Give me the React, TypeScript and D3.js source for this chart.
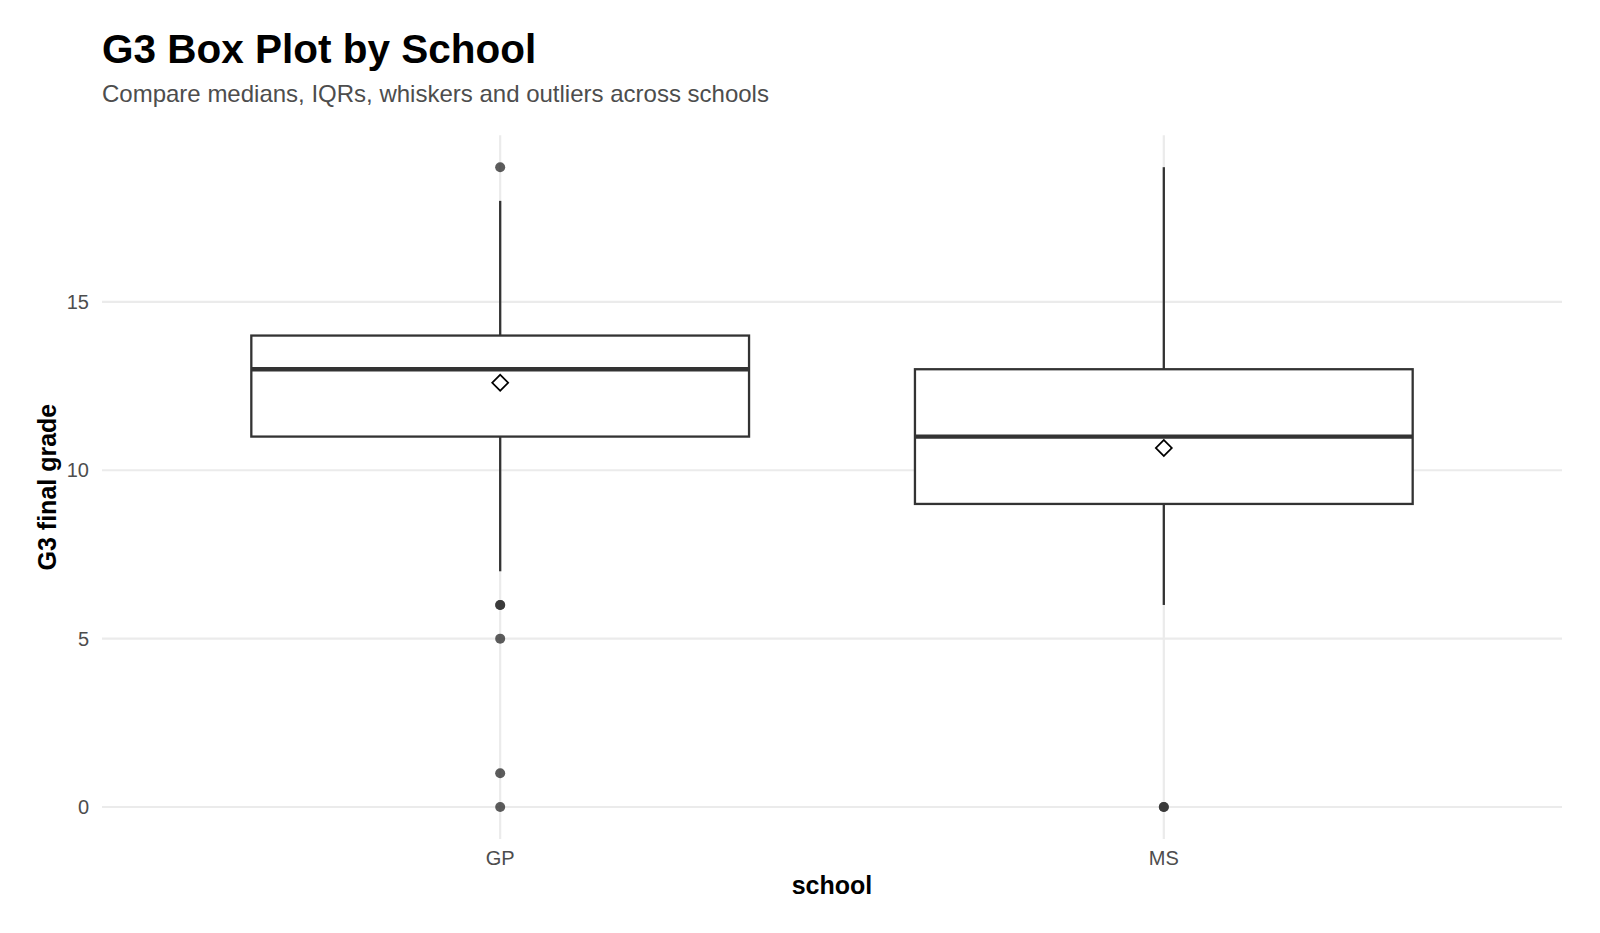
import React from "react";
import * as d3 from "d3";

// Resumen por escuela (G3)
const schools = ["GP", "MS"];
const lowerWhisker = [7, 6];
const q1 = [11, 9];
const medians = [13, 11];
const q3 = [14, 13];
const upperWhisker = [18, 19];
const means = [12.6, 10.66];
// outliers, repeated values overplot and look darker
const outliersGP = [19, 6, 6, 5, 1, 0];
const outliersMS = [0, 0];
const outliers = [outliersGP, outliersMS];
const yTicks = [0, 5, 10, 15];

const W = 1600;
const H = 933;
const margin = { top: 135.2, right: 38, bottom: 94, left: 102 };
const font = "'Liberation Sans', Arial, sans-serif";

export default function App() {
  const x = d3
    .scalePoint<string>()
    .domain(schools)
    .range([margin.left, W - margin.right])
    .padding(0.6);
  const y = d3
    .scaleLinear()
    .domain([-0.95, 19.95])
    .range([H - margin.bottom, margin.top]);

  const boxHalf = x.step() * 0.375;
  const diamond = d3.symbol(d3.symbolSquare, 128)() as string;
  const gridColor = "#ebebeb";
  const ink = "#333333";

  return (
    <svg
      width={W}
      height={H}
      style={{ position: "absolute", left: 0, top: 0, background: "#fff" }}
      fontFamily={font}
    >
      {/* Título y subtítulo */}
      <text x={102} y={63} fontSize={40.5} fontWeight="bold" fill="#000">
        G3 Box Plot by School
      </text>
      <text x={102} y={102} fontSize={24} fill="#4d4d4d">
        Compare medians, IQRs, whiskers and outliers across schools
      </text>

      {/* Rejilla */}
      {yTicks.map((t) => (
        <line
          key={"gy" + t}
          x1={margin.left}
          x2={W - margin.right}
          y1={y(t)}
          y2={y(t)}
          stroke={gridColor}
          strokeWidth={2.2}
        />
      ))}
      {schools.map((s) => (
        <line
          key={"gx" + s}
          x1={x(s)}
          x2={x(s)}
          y1={margin.top}
          y2={H - margin.bottom}
          stroke={gridColor}
          strokeWidth={2.2}
        />
      ))}

      {/* Ejes */}
      {yTicks.map((t) => (
        <text
          key={"ty" + t}
          x={89}
          y={y(t)}
          dy="0.36em"
          textAnchor="end"
          fontSize={20}
          fill="#4d4d4d"
        >
          {t}
        </text>
      ))}
      {schools.map((s) => (
        <text
          key={"tx" + s}
          x={x(s)}
          y={865}
          textAnchor="middle"
          fontSize={20}
          fill="#4d4d4d"
        >
          {s}
        </text>
      ))}
      <text
        x={(margin.left + W - margin.right) / 2}
        y={894}
        textAnchor="middle"
        fontSize={25}
        fontWeight="bold"
        fill="#000"
      >
        school
      </text>
      <text
        transform={`translate(56, ${(margin.top + H - margin.bottom) / 2}) rotate(-90)`}
        textAnchor="middle"
        fontSize={25}
        fontWeight="bold"
        fill="#000"
      >
        G3 final grade
      </text>

      {/* Cajas */}
      {schools.map((s, i) => {
        const cx = x(s) as number;
        return (
          <g key={"box" + s}>
            <line x1={cx} x2={cx} y1={y(upperWhisker[i])} y2={y(q3[i])} stroke={ink} strokeWidth={2.3} />
            <line x1={cx} x2={cx} y1={y(q1[i])} y2={y(lowerWhisker[i])} stroke={ink} strokeWidth={2.3} />
            <rect
              x={cx - boxHalf}
              y={y(q3[i])}
              width={boxHalf * 2}
              height={y(q1[i]) - y(q3[i])}
              fill="#fff"
              stroke={ink}
              strokeWidth={2.3}
            />
            <line
              x1={cx - boxHalf}
              x2={cx + boxHalf}
              y1={y(medians[i])}
              y2={y(medians[i])}
              stroke={ink}
              strokeWidth={4.4}
            />
            {outliers[i].map((v, j) => (
              <circle key={j} cx={cx} cy={y(v)} r={5} fill={ink} fillOpacity={0.8} />
            ))}
            <path
              d={diamond}
              transform={`translate(${cx}, ${y(means[i])}) rotate(45)`}
              fill="#fff"
              stroke="#000"
              strokeWidth={1.7}
            />
          </g>
        );
      })}
    </svg>
  );
}
